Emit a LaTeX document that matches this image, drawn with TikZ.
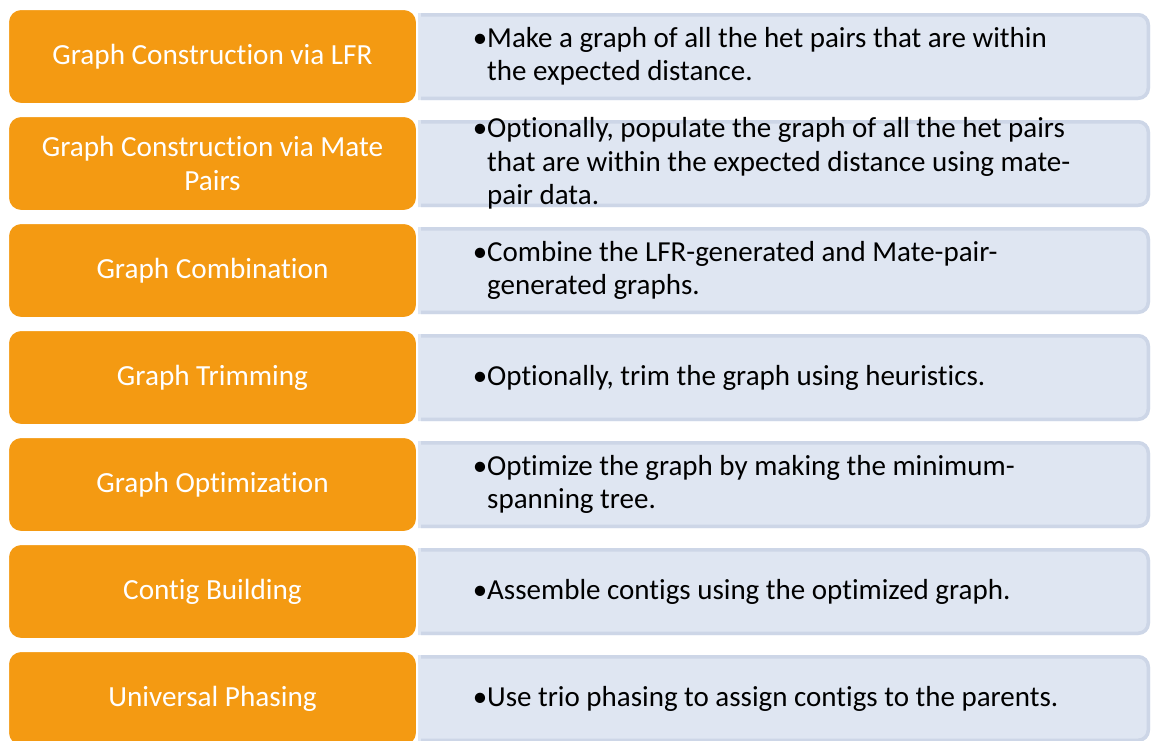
\documentclass[tikz,border=0pt]{standalone}
\usepackage{fontspec}
\setmainfont{Carlito}[RawFeature={-liga;-clig;-calt;-dlig}]
\definecolor{stepfill}{HTML}{F49A12}
\definecolor{notefill}{HTML}{DFE6F2}
\definecolor{noteline}{HTML}{CDD6E7}
\tikzset{
  stepbox/.style={fill=stepfill, draw=white, line width=2pt, rounded corners=13pt,
    minimum width=409pt, minimum height=95pt, text=white, align=center,
    inner sep=0pt, font=\fontsize{29.2}{33.5}\selectfont},
  noteedge/.style={draw=noteline, line width=3.5pt},
  notetext/.style={anchor=west, align=left, inner sep=0pt, text=black,
    font=\fontsize{29}{33.5}\selectfont}
}
% one row: orange step on the left, bulleted note on the right
\newcommand\steprow[3]{%
  \pgfmathsetmacro\rowtop{9+107*(#1-1)}
  \fill[notefill] (418,\rowtop+4) [rounded corners=12pt] -- (1150,\rowtop+4)
    -- (1150,\rowtop+91) [sharp corners] -- (418,\rowtop+91) -- cycle;
  \draw[noteedge] (421,\rowtop+5.75) [rounded corners=10pt] -- (1148.25,\rowtop+5.75)
    -- (1148.25,\rowtop+89.25) -- (421,\rowtop+89.25);
  \node[stepbox] (s#1) at (212.5,\rowtop+47.5) {#2};
  \node[notetext] (n#1) at (487,\rowtop+47.5) {\llap{•}#3};
}
\begin{document}
\begin{tikzpicture}[x=1pt,y=-1pt]
  \useasboundingbox (0,0) rectangle (1151,740);
  \steprow{1}{Graph Construction via LFR}{Make a graph of all the het pairs that are within\\the expected distance.}
  \steprow{2}{Graph Construction via Mate\\Pairs}{Optionally, populate the graph of all the het pairs\\that are within the expected distance using mate-\\pair data.}
  \steprow{3}{Graph Combination}{Combine the LFR-generated and Mate-pair-\\generated graphs.}
  \steprow{4}{Graph Trimming}{Optionally, trim the graph using heuristics.}
  \steprow{5}{Graph Optimization}{Optimize the graph by making the minimum-\\spanning tree.}
  \steprow{6}{Contig Building}{Assemble contigs using the optimized graph.}
  \steprow{7}{Universal Phasing}{Use trio phasing to assign contigs to the parents.}
\end{tikzpicture}
\end{document}
